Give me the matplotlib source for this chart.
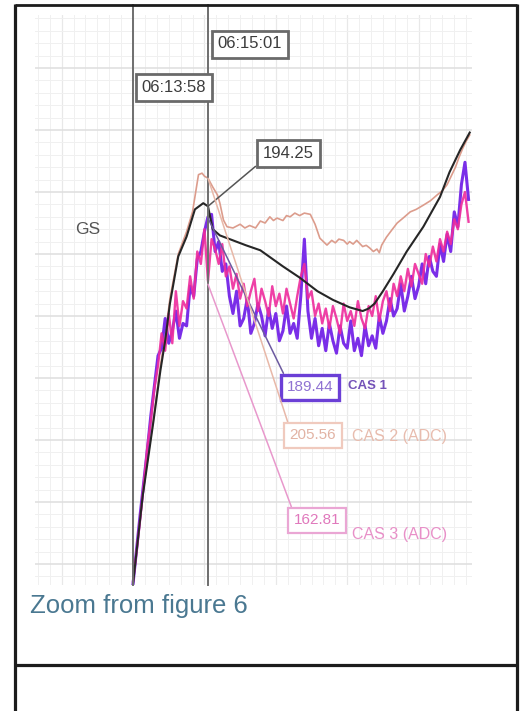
import numpy as np
import matplotlib
matplotlib.use("Agg")
import matplotlib.pyplot as plt
from matplotlib.ticker import MultipleLocator

# ---------------- data (time in s after 06:13:58, speeds in kt) ----------------
event_labels = ["06:13:58", "06:15:01"]
event_t = [0, 63]

gs_t = [0, 8, 17, 23, 27, 31, 38, 45, 52, 59, 63, 67, 73, 84, 95, 107, 126, 140, 155,
        168, 182, 193, 198, 203, 210, 219, 230, 244, 258, 266, 275, 283]
gs_v = [42, 77, 107, 128, 140, 155, 174, 182, 193, 195.5, 194.25, 185, 182.5, 180.5, 178.5,
        176.5, 170, 165.5, 160, 156.5, 153.5, 152, 153, 155, 160, 167, 176, 186, 198, 208,
        217, 224]

cas2_t = [0, 8, 17, 23, 27, 31, 38, 45, 50, 53,
          55, 58, 60, 63, 67, 71, 73, 76, 79, 84,
          90, 94, 98, 103, 107, 111, 115, 118, 121, 126,
          129, 132, 136, 140, 144, 149, 153, 157, 160, 163,
          167, 170, 173, 177, 180, 182, 185, 188, 191, 193,
          196, 199, 202, 205, 207, 209, 213, 218, 222, 227,
          233, 238, 244, 250, 256, 260, 264, 268, 271, 274,
          277, 280, 283]
cas2_v = [42, 78, 108, 130, 142, 157, 175, 184, 192, 201,
          207, 207.6, 206.4, 205.56, 202, 198.8, 195.5, 188.7, 186, 185.5,
          187, 185.5, 186.5, 185.5, 188.3, 187.5, 190, 188.5, 189.5, 188.5,
          190.5, 190, 191.5, 190.5, 191.5, 191, 187, 181.4, 180, 178.6,
          180.5, 179.5, 181, 180.5, 179, 180, 179, 180.5, 179, 178,
          178.5, 177.4, 176, 177, 175.5, 178.6, 181.8, 185, 187.5, 189.5,
          192, 193, 194.7, 196.5, 199, 200.5, 203, 207, 210, 214,
          217.5, 220.5, 223]

noisy_t = np.arange(0, 285, 3)
cas1_v = [42, 56, 70, 83, 96, 110, 122, 134,
          137, 149, 139, 144, 152, 141, 147, 146, 162, 158, 173, 176, 184, 190,
          191, 176, 180, 168, 171, 158, 151, 160, 146, 149, 157, 143,
          147, 155, 150, 142, 153, 145, 151, 140, 144, 154, 143, 147,
          141, 158, 181, 152, 141, 149, 138, 145, 136, 147, 140, 135,
          146, 139, 137, 148, 136, 141, 134, 146, 138, 142, 137, 150,
          143, 148, 157, 150, 153, 163, 152, 158, 166, 157, 162, 171,
          163, 174, 168, 166, 179, 172, 183, 176, 192, 186, 203, 212, 197]
cas3_v = [43, 55, 68, 82, 97, 108, 121, 130,
          143, 136, 151, 139, 160, 146, 156, 153, 166, 157, 176, 171, 185, 164,
          181, 177, 171, 179, 166, 170, 161, 167, 157, 163, 154, 160,
          165, 152, 161, 156, 150, 162, 154, 159, 151, 161, 155, 149,
          158, 166, 171, 157, 160, 150, 155, 147, 153, 145, 154, 149,
          143, 155, 148, 152, 146, 156, 149, 145, 154, 150, 158, 148,
          156, 160, 152, 163, 158, 166, 160, 169, 162, 171, 167, 163,
          175, 170, 178, 172, 181, 176, 184, 179, 189, 185, 195, 200, 188]

readout_t = 63
readout_labels = ["GS", "CAS 1", "CAS 2 (ADC)", "CAS 3 (ADC)"]
readout_values = [194.25, 189.44, 205.56, 162.81]

title = "Zoom from figure 6"

# ---------------- styling ----------------
SANS = ['Liberation Sans', 'DejaVu Sans']
c_gs = '#262626'
c_cas1 = '#7a2ee8'
c_cas2 = '#dc9c8c'
c_cas3 = '#ee2b9c'

W, H = 521, 711
fig = plt.figure(figsize=(W / 100, H / 100), dpi=100)
fig.patch.set_facecolor('white')

ax = fig.add_axes([35 / W, 1 - 585 / H, 437 / W, 570 / H])
ax.set_xlim(-82.4, 284.9)
ax.set_ylim(41.5, 271.4)
ax.xaxis.set_major_locator(MultipleLocator(60))
ax.xaxis.set_minor_locator(MultipleLocator(10))
ax.yaxis.set_major_locator(MultipleLocator(25))
ax.yaxis.set_minor_locator(MultipleLocator(5))
ax.grid(which='major', axis='y', color='#dedede', lw=1.1)
ax.grid(which='major', axis='x', color='#e8e8e8', lw=0.9)
ax.grid(which='minor', color='#f0f0f0', lw=0.7)
ax.set_axisbelow(True)
ax.tick_params(which='both', length=0, labelbottom=False, labelleft=False)
for s in ax.spines.values():
    s.set_visible(False)

# event lines
for t in event_t:
    ax.axvline(t, ymin=0, ymax=(585 - 5) / 570, clip_on=False, color='#6e6e6e', lw=1.4, zorder=6)

# series
ax.plot(cas2_t, cas2_v, color=c_cas2, lw=1.2, zorder=2)
ax.plot(noisy_t, cas1_v, color=c_cas1, lw=2.2, zorder=3)
ax.plot(noisy_t, cas3_v, color=c_cas3, lw=1.7, alpha=0.9, zorder=4)
ax.plot(gs_t, gs_v, color=c_gs, lw=1.5, zorder=5)

# overlay in pixel coordinates
ov = fig.add_axes([0, 0, 1, 1])
ov.set_xlim(0, W)
ov.set_ylim(H, 0)
ov.axis('off')
ov.patch.set_alpha(0)
ov.set_zorder(5)

# frame
fc = '#1c1c1c'
ov.plot([15, 15], [4, 711], color=fc, lw=2.3, solid_capstyle='butt')
ov.plot([517, 517], [4, 711], color=fc, lw=2.3, solid_capstyle='butt')
ov.plot([15, 517], [5, 5], color=fc, lw=2.0, solid_capstyle='butt')
ov.plot([15, 517], [665, 665], color=fc, lw=2.3, solid_capstyle='butt')

# time boxes
time_pos = [(174, 87), (250, 44)]
for lab, (px, py) in zip(event_labels, time_pos):
    ov.text(px, py, lab, ha='center', va='center', fontsize=12, family=SANS, color='#3c3c3c',
            bbox=dict(boxstyle='square,pad=0.36', fc='white', ec='#6a6a6a', lw=2.0), zorder=10)

# readout boxes
box_pos = [(288, 153), (310, 387), (313, 435), (317, 520)]
relpos = [(0, 0), (0, 1), (0, 1), (0, 1)]
box_ec = ['#6a6a6a', '#6b3fd6', '#f0cabe', '#eaa6d4']
box_tc = ['#3c3c3c', '#8f72d2', '#e2b3a4', '#e078bc']
lead_c = ['#555555', '#6c5aa0', '#e8b8a8', '#e898cc']
box_lw = [2.0, 2.4, 1.6, 1.6]
box_fs = [12, 11, 11, 11]
for i, val in enumerate(readout_values):
    ax.annotate(f"{val:.2f}", xy=(readout_t, val), xycoords='data',
                xytext=box_pos[i], textcoords=ov.transData,
                ha='center', va='center', fontsize=box_fs[i], family=SANS, color=box_tc[i],
                bbox=dict(boxstyle='square,pad=0.36', fc='white', ec=box_ec[i], lw=box_lw[i]),
                arrowprops=dict(arrowstyle='-', color=lead_c[i], lw=1.1, relpos=relpos[i],
                                shrinkA=0, shrinkB=0),
                annotation_clip=False, zorder=10)

# series labels
ov.text(88, 229, readout_labels[0], ha='center', va='center', fontsize=12.5, family=SANS,
        color='#555555')
ov.text(348, 386, readout_labels[1], ha='left', va='center', fontsize=9.5, family=SANS,
        color='#7452b8', weight='bold')
ov.text(352, 437, readout_labels[2], ha='left', va='center', fontsize=11.5, family=SANS,
        color='#e8bcae')
ov.text(352, 535, readout_labels[3], ha='left', va='center', fontsize=11.5, family=SANS,
        color='#e890c8')

ov.text(30, 606, title, ha='left', va='center', fontsize=18.5, family=SANS, color='#4a7891')

fig.savefig('out.png', dpi=100)
